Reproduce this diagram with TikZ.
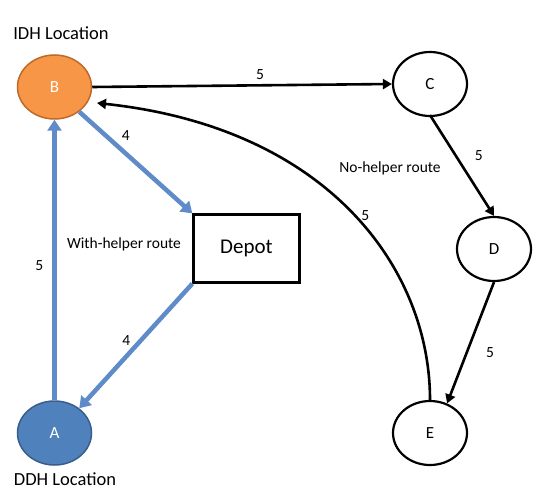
\documentclass[tikz,border=0pt]{standalone}
\usepackage{fontspec}
\setmainfont{Carlito}
\usetikzlibrary{shapes.geometric,arrows.meta}
\definecolor{borange}{RGB}{247,150,70}
\definecolor{borangeD}{RGB}{190,105,40}
\definecolor{ablue}{RGB}{79,129,189}
\definecolor{ablueD}{RGB}{56,93,138}
\definecolor{eblue}{RGB}{95,140,200}
\tikzset{
  vnode/.style={ellipse,draw=black,line width=2.2pt,minimum width=74pt,minimum height=64pt,inner sep=0pt,font=\fontsize{17}{19}\selectfont},
  blk/.style={line width=2.6pt,-{Triangle[width=10pt,length=9pt]}},
  blu/.style={line width=4.5pt,draw=eblue,-{Triangle[width=14pt,length=11pt]}},
  lbl/.style={font=\fontsize{15.5}{17}\selectfont,inner sep=1pt},
  captxt/.style={font=\fontsize{18.5}{21}\selectfont,inner sep=1pt}
}
\begin{document}
\begin{tikzpicture}[x=1pt,y=-1pt]
\useasboundingbox (0,0) rectangle (556,494);
\node[vnode,fill=borange,draw=borangeD,line width=1.5pt,text=white] (B) at (54.5,87) {B};
\node[vnode,fill=ablue,draw=ablueD,line width=1.5pt,text=white] (A) at (54.5,433) {A};
\node[vnode] (C) at (430,84) {C};
\node[vnode] (D) at (494,249) {D};
\node[vnode] (E) at (430,433) {E};
\node[draw=black,line width=2.2pt,minimum width=106pt,minimum height=68pt,inner sep=0pt,font=\fontsize{21}{24}\selectfont] (Dep) at (246.5,248.5) {Depot};
\coordinate (Bin) at (97,103);
\node[captxt] (idh) at (61,33) {IDH Location};
\node[captxt] (ddh) at (65,479) {DDH Location};
\node[lbl] (wh) at (124,244) {With-helper route};
\node[lbl] (nh) at (390,168) {No-helper route};
\draw[blk] (B.east) -- node[lbl,above=3pt,pos=0.56] {5} (C.west);
\draw[blk] (C.south) ++(0,-2) -- node[lbl,right=17pt,pos=0.4] {5} (D.north);
\draw[blk] (D.south) -- node[lbl,right=17pt,pos=0.58] {5} (E.60);
\draw[blk] (E.north) .. controls (430,270) and (330,128) .. node[lbl,pos=0.49,right=5pt] {5} (Bin);
\draw[blu] (A.north) -- node[lbl,left=8pt,pos=0.48] {5} (B.south);
\draw[blu] (B.-45) -- node[lbl,above right=2pt,pos=0.33] {4} (Dep.north west);
\draw[blu] (Dep.south west) -- node[lbl,above left=0pt,pos=0.52] {4} (A.45);
\end{tikzpicture}
\end{document}
